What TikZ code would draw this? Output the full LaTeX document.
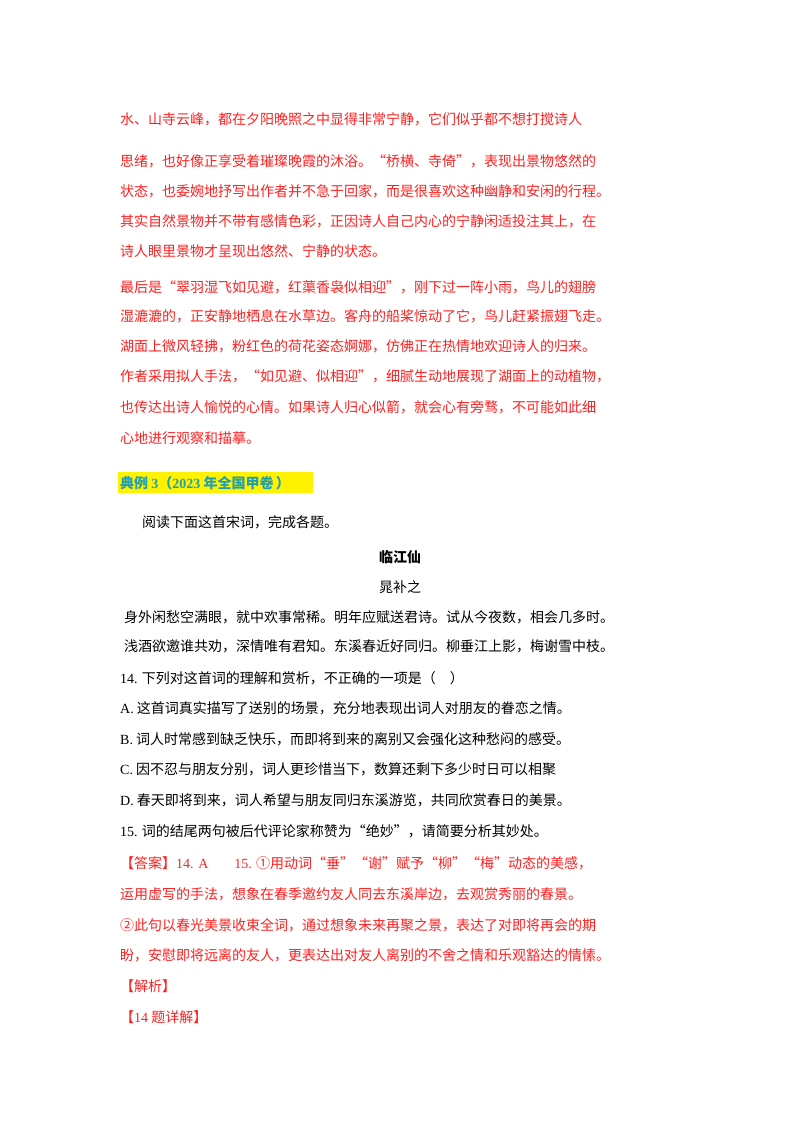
\documentclass[tikz,border=0pt]{standalone}
\usepackage{fontspec}
\setmainfont{Liberation Serif}
\newfontfamily\cjk{Noto Sans CJK SC}
\definecolor{ansred}{HTML}{FF2020}
\definecolor{headblue}{HTML}{1E9FB4}
\begin{document}
\begin{tikzpicture}[x=1pt,y=-1pt,
  ln/.style={anchor=base west,inner sep=0pt,font=\fontsize{14}{14}\selectfont\cjk},
  rd/.style={ln,text=ansred},
  bk/.style={ln,text=black}]
\useasboundingbox[fill=white] (0,0) rectangle (800,1132);
\node[rd] (l1) at (120,124) {水、山寺云峰，都在夕阳晚照之中显得非常宁静，它们似乎都不想打搅诗人};
\node[rd] (l2) at (120,166) {思绪，也好像正享受着璀璨晚霞的沐浴。“桥横、寺倚”，表现出景物悠然的};
\node[rd] (l3) at (120,196) {状态，也委婉地抒写出作者并不急于回家，而是很喜欢这种幽静和安闲的行程。};
\node[rd] (l4) at (120,226) {其实自然景物并不带有感情色彩，正因诗人自己内心的宁静闲适投注其上，在};
\node[rd] (l5) at (120,256) {诗人眼里景物才呈现出悠然、宁静的状态。};
\node[rd] (l6) at (120,292) {最后是“翠羽湿飞如见避，红蕖香袅似相迎”，刚下过一阵小雨，鸟儿的翅膀};
\node[rd] (l7) at (120,321) {湿漉漉的，正安静地栖息在水草边。客舟的船桨惊动了它，鸟儿赶紧振翅飞走。};
\node[rd] (l8) at (120,351) {湖面上微风轻拂，粉红色的荷花姿态婀娜，仿佛正在热情地欢迎诗人的归来。};
\node[rd] (l9) at (120,381) {作者采用拟人手法，“如见避、似相迎”，细腻生动地展现了湖面上的动植物，};
\node[rd] (l10) at (120,412) {也传达出诗人愉悦的心情。如果诗人归心似箭，就会心有旁骛，不可能如此细};
\node[rd] (l11) at (120,443) {心地进行观察和描摹。};
\fill[yellow] (118,472) rectangle (313,493);
\node[ln,text=headblue,font=\fontsize{14}{14}\selectfont\bfseries\cjk] (h) at (120,488) {典例 {\rmfamily 3}（{\rmfamily 2023} 年全国甲卷\,）};
\node[bk] (r) at (142,527) {阅读下面这首宋词，完成各题。};
\node[bk,anchor=base,font=\fontsize{14}{14}\selectfont\bfseries\cjk] (t) at (400,562) {临江仙};
\node[bk,anchor=base] (au) at (400,592) {晁补之};
\node[bk] (p1) at (124,622) {身外闲愁空满眼，就中欢事常稀。明年应赋送君诗。试从今夜数，相会几多时。};
\node[bk] (p2) at (124,651) {浅酒欲邀谁共劝，深情唯有君知。东溪春近好同归。柳垂江上影，梅谢雪中枝。};
\node[bk] (q14) at (120,683) {{\rmfamily 14.} 下列对这首词的理解和赏析，不正确的一项是（\quad ）};
\node[bk] (qa) at (120,713) {{\rmfamily A.} 这首词真实描写了送别的场景，充分地表现出词人对朋友的眷恋之情。};
\node[bk] (qb) at (120,744) {{\rmfamily B.} 词人时常感到缺乏快乐，而即将到来的离别又会强化这种愁闷的感受。};
\node[bk] (qc) at (120,774) {{\rmfamily C.} 因不忍与朋友分别，词人更珍惜当下，数算还剩下多少时日可以相聚};
\node[bk] (qd) at (120,805) {{\rmfamily D.} 春天即将到来，词人希望与朋友同归东溪游览，共同欣赏春日的美景。};
\node[bk] (q15) at (120,836) {{\rmfamily 15.} 词的结尾两句被后代评论家称赞为“绝妙”，请简要分析其妙处。};
\node[rd] (a1) at (120,868) {【答案】{\rmfamily 14. A}\hspace{26pt}{\rmfamily 15.} ①用动词“垂”“谢”赋予“柳”“梅”动态的美感，};
\node[rd] (a2) at (120,899) {运用虚写的手法，想象在春季邀约友人同去东溪岸边，去观赏秀丽的春景。};
\node[rd] (a3) at (120,930) {②此句以春光美景收束全词，通过想象未来再聚之景，表达了对即将再会的期};
\node[rd] (a4) at (120,960) {盼，安慰即将远离的友人，更表达出对友人离别的不舍之情和乐观豁达的情愫。};
\node[rd] (a5) at (120,991) {【解析】};
\node[rd] (a6) at (120,1022) {【{\rmfamily 14} 题详解】};
\end{tikzpicture}
\end{document}
